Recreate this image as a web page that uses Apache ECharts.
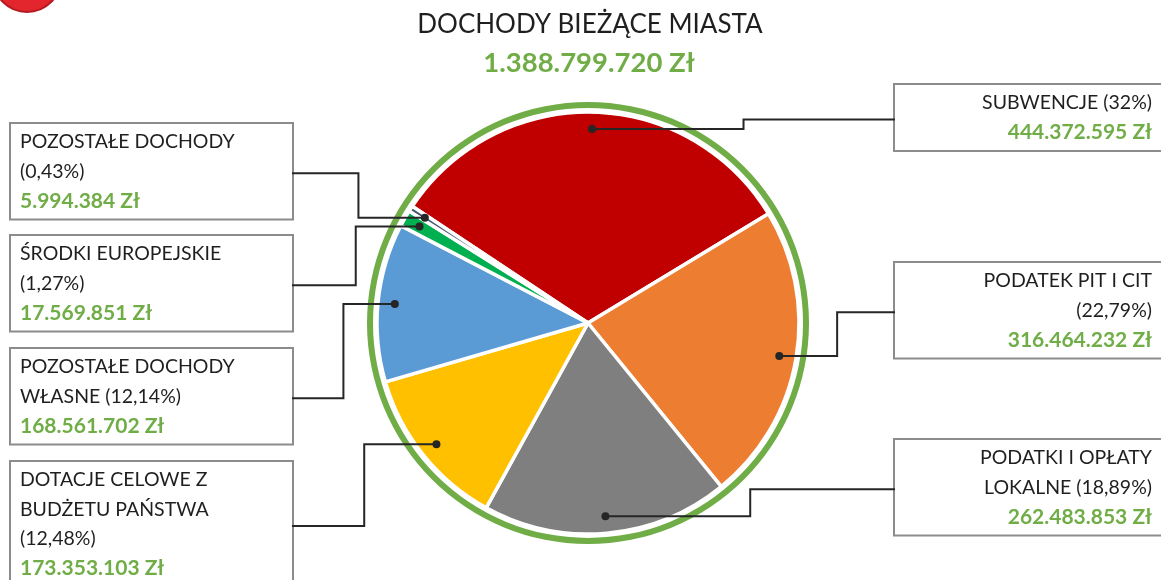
<!DOCTYPE html>
<html>
<head>
<meta charset="utf-8">
<script src="https://cdn.jsdelivr.net/npm/echarts@6/dist/echarts.min.js"></script>
<style>
  html, body { margin: 0; padding: 0; background: #fff; }
  #chart { width: 1161px; height: 580px; }
</style>
</head>
<body>
<div id="chart"></div>
<script>
// dane wykresu
const kategorie = ['SUBWENCJE', 'PODATEK PIT I CIT', 'PODATKI I OPŁATY LOKALNE', 'DOTACJE CELOWE Z BUDŻETU PAŃSTWA',
  'POZOSTAŁE DOCHODY WŁASNE', 'ŚRODKI EUROPEJSKIE', 'POZOSTAŁE DOCHODY']
const kwoty = [444372595, 316464232, 262483853, 173353103, 168561702, 17569851, 5994384]
const procenty = ['32%', '22,79%', '18,89%', '12,48%', '12,14%', '1,27%', '0,43%']
// podział tekstu etykiet na linie (jak w oryginale)
const linieEtykiet = [
  ['SUBWENCJE (32%)'],
  ['PODATEK PIT I CIT', '(22,79%)'],
  ['PODATKI I OPŁATY', 'LOKALNE (18,89%)'],
  ['DOTACJE CELOWE Z', 'BUDŻETU PAŃSTWA', '(12,48%)'],
  ['POZOSTAŁE DOCHODY', 'WŁASNE (12,14%)'],
  ['ŚRODKI EUROPEJSKIE', '(1,27%)'],
  ['POZOSTAŁE DOCHODY', '(0,43%)']
]
const kolory = ['#C00000', '#ED7D31', '#7F7F7F', '#FFC000', '#5B9BD5', '#00B050', '#44546A']
const tytul = 'DOCHODY BIEŻĄCE MIASTA'

// położenie ramek z opisami (lewy górny róg), strona: L / P
const ramki = [
  { x: 895, y: 85, strona: 'P' },
  { x: 895, y: 263, strona: 'P' },
  { x: 895, y: 440, strona: 'P' },
  { x: 11, y: 462, strona: 'L' },
  { x: 11, y: 349, strona: 'L' },
  { x: 11, y: 236, strona: 'L' },
  { x: 11, y: 124, strona: 'L' }
]
const SZER_L = 281
const wysokosci = []

const ZIELONY = '#70AD47'
const CZCIONKA = 'Lato'

// 1388799720 -> "1.388.799.720 Zł"
function formatZl (v) {
  return String(v).replace(/\B(?=(\d{3})+(?!\d))/g, '.') + ' Zł'
}

const suma = kwoty.reduce((a, b) => a + b, 0)

const dane = kategorie.map((nazwa, i) => {
  const prawa = ramki[i].strona === 'P'
  return {
    name: nazwa,
    value: kwoty[i],
    itemStyle: { color: kolory[i] },
    label: prawa
      ? { width: 248, padding: [3, 14, 3, 9] }
      : { width: 263, padding: [3, 9, 3, 9] }
  }
})

const chart = echarts.init(document.getElementById('chart'))

const styl = (align, bold) => ({
  fontFamily: CZCIONKA,
  fontSize: bold ? 21 : 19.5,
  lineHeight: 29.5,
  align: align,
  color: bold ? ZIELONY : '#1f1f1f',
  fontWeight: bold ? 'bold' : 'normal'
})

chart.setOption({
  animation: false,
  graphic: [
    {
      id: 'logo',
      type: 'circle',
      shape: { cx: 27, cy: -22, r: 34 },
      style: { fill: '#E3262D', stroke: '#B51B20', lineWidth: 2 }
    },
    {
      id: 'tytul',
      type: 'text',
      x: 590,
      y: 25,
      style: {
        text: tytul, textAlign: 'center', textVerticalAlign: 'middle',
        fontFamily: CZCIONKA, fontSize: 26, fill: '#1f1f1f'
      }
    },
    {
      id: 'suma',
      type: 'text',
      x: 589,
      y: 63,
      style: {
        text: formatZl(suma), textAlign: 'center', textVerticalAlign: 'middle',
        fontFamily: CZCIONKA, fontSize: 27.5, fontWeight: 'bold', fill: ZIELONY
      }
    }
  ],
  series: [
    {
      // zielona obwódka
      type: 'pie',
      center: [588, 323],
      radius: [215, 221],
      silent: true,
      label: { show: false },
      labelLine: { show: false },
      data: [{ value: suma, name: 'SUMA', itemStyle: { color: ZIELONY } }]
    },
    {
      type: 'pie',
      center: [588, 323],
      radius: [0, 211],
      startAngle: 146.4,
      clockwise: true,
      emphasis: { disabled: true },
      itemStyle: { borderColor: '#fff', borderWidth: 3.5 },
      labelLine: { show: false },
      label: {
        show: true,
        position: 'outside',
        backgroundColor: '#fff',
        borderColor: '#8c8c8c',
        borderWidth: 2,
        formatter: (p) => {
          const s = ramki[p.dataIndex].strona
          const linie = linieEtykiet[p.dataIndex].map(t => '{n' + s + '|' + t + '}')
          linie.push('{v' + s + '|' + formatZl(p.value) + '}')
          return linie.join('\n')
        },
        rich: {
          nL: styl('left', false),
          vL: styl('left', true),
          nP: styl('right', false),
          vP: styl('right', true)
        }
      },
      labelLayout: (p) => {
        const r = ramki[p.dataIndex]
        wysokosci[p.dataIndex] = p.labelRect.height
        return { x: r.x, y: r.y, align: 'left', verticalAlign: 'top', hideOverlap: false, moveOverlap: false }
      },
      data: dane
    }
  ]
})

// linie łączące ramki z wycinkami (łamane) i kropki – z układu wycinków policzonego przez ECharts
const daneSerii = chart.getModel().getSeriesByIndex(1).getData()
const elementy = []
kategorie.forEach((nazwa, i) => {
  const l = daneSerii.getItemLayout(i)
  const kat = (l.startAngle + l.endAngle) / 2
  const px = l.cx + l.r * 0.92 * Math.cos(kat)
  const py = l.cy + l.r * 0.92 * Math.sin(kat)
  const rm = ramki[i]
  const kx = rm.strona === 'L' ? rm.x + SZER_L : rm.x
  const ky = rm.y + (wysokosci[i] || 90) / 2
  const sx = (kx + px) / 2
  elementy.push({
    id: 'linia' + i,
    type: 'polyline',
    z: 100,
    shape: { points: [[kx, ky], [sx, ky], [sx, py], [px, py]] },
    style: { stroke: '#262626', lineWidth: 2, fill: null }
  })
  elementy.push({
    id: 'kropka' + i,
    type: 'circle',
    z: 101,
    shape: { cx: px, cy: py, r: 4 },
    style: { fill: '#262626' }
  })
})
chart.setOption({ graphic: elementy })
</script>
</body>
</html>
